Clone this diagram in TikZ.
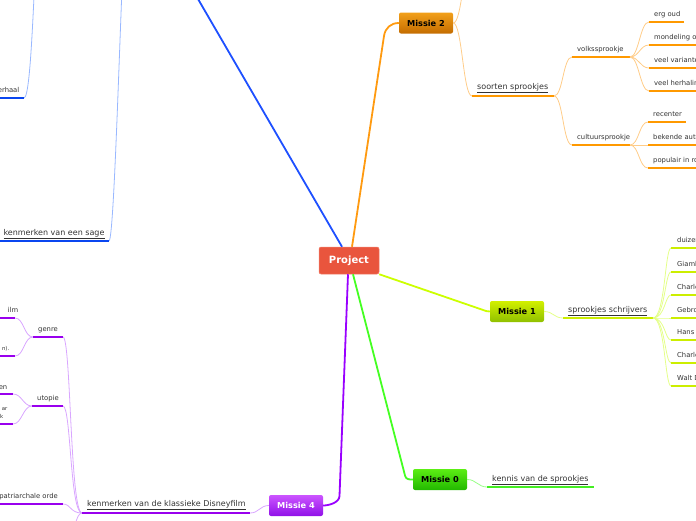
\documentclass[tikz,border=0pt]{standalone}
\usepackage{fontspec}
\setmainfont{DejaVu Sans}
\usetikzlibrary{calc}
\definecolor{txt}{HTML}{333333}
\definecolor{projC}{HTML}{E9553D}
\definecolor{projB}{HTML}{F2806C}
\definecolor{m2t}{HTML}{F2A01A}
\definecolor{m2b}{HTML}{C46C00}
\definecolor{m1t}{HTML}{D2F000}
\definecolor{m1b}{HTML}{90C000}
\definecolor{m0t}{HTML}{5CEE14}
\definecolor{m0b}{HTML}{22B800}
\definecolor{m4t}{HTML}{CC55FF}
\definecolor{m4b}{HTML}{9010E8}
\definecolor{lO}{HTML}{FF9A10}
\definecolor{tO}{HTML}{FFCC88}
\definecolor{uO}{HTML}{FF9900}
\definecolor{lY}{HTML}{CCFF00}
\definecolor{tY}{HTML}{E4FF88}
\definecolor{uY}{HTML}{CCEE00}
\definecolor{lG}{HTML}{44FF22}
\definecolor{tG}{HTML}{99FF88}
\definecolor{uG}{HTML}{44EE22}
\definecolor{lP}{HTML}{9900FF}
\definecolor{tP}{HTML}{D9A6FF}
\definecolor{uP}{HTML}{9900EE}
\definecolor{lB}{HTML}{1E50FF}
\definecolor{tB}{HTML}{99B8FF}
\definecolor{uB}{HTML}{0A46F0}
\tikzset{
  root/.style={rectangle, rounded corners=2pt, fill=projC, draw=projB, line width=0.5pt,
    minimum width=60pt, minimum height=27pt, text=white, inner sep=0pt,
    font=\fontsize{10}{12}\selectfont\bfseries},
  mis/.style={rectangle, rounded corners=2pt, minimum width=54pt, minimum height=21pt,
    inner sep=0pt, font=\fontsize{8.2}{10}\selectfont\bfseries},
  topic/.style={anchor=base west, inner sep=0pt, text=txt, font=\fontsize{8}{10}\selectfont},
  lab/.style={anchor=base west, inner sep=0pt, text=txt, font=\fontsize{6.8}{8}\selectfont},
  labE/.style={lab, anchor=base east},
  tiny/.style={labE, font=\fontsize{5.4}{6}\selectfont},
  mainln/.style={line width=1.8pt},
  thinln/.style={line width=0.8pt},
  ulln/.style={line width=2.6pt},
  br/.style={out=0,in=180,distance=9pt},
  brl/.style={out=180,in=0,distance=9pt},
}
\begin{document}
\begin{tikzpicture}[x=1pt,y=-1pt]
\useasboundingbox (0,0) rectangle (696,520);
\clip (0,0) rectangle (696,520);

% main nodes
\node[root] (proj) at (349,260.5) {Project};
\node[mis, top color=m2t, bottom color=m2b] (m2) at (426,23) {Missie 2};
\node[mis, top color=m1t, bottom color=m1b] (m1) at (517,311.5) {Missie 1};
\node[mis, top color=m0t, bottom color=m0b] (m0) at (440,479.5) {Missie 0};
\node[mis, top color=m4t, bottom color=m4b, text=white] (m4) at (296,505.5) {Missie 4};

% ---------------- blue branch
\coordinate (bTop) at (180,-32);
\coordinate (p3a) at (125,-60);
\coordinate (p3b) at (37,-40);
\coordinate (sgL) at (-5,241); \coordinate (sgR) at (109,241);
\coordinate (vhL) at (-5,98); \coordinate (vhR) at (24,98);
\draw[mainln, lB] ($(proj.north)+(-7,0)$) -- (bTop);
\draw[thinln, tB] (p3a) to[out=180,in=0,out distance=3pt,in distance=6pt] (sgR);
\draw[thinln, tB] (p3b) to[out=180,in=0,out distance=3pt,in distance=8pt] (vhR);
\draw[ulln, uB] (sgL) -- (sgR);
\draw[ulln, uB] (vhL) -- (vhR);
\node[topic] (sg) at (3.3,235.5) {\underline{kenmerken van een sage}};
\node[labE] (vh) at (19.5,92.7) {erhaal};

% ---------------- orange branch (Missie 2)
\coordinate (b2) at (384,36);
\coordinate (m2up) at (472,-40);
\coordinate (soL) at (472,96); \coordinate (soR) at (554,96);
\coordinate (voL) at (572,57); \coordinate (voR) at (630,57);
\coordinate (cuL) at (572,145); \coordinate (cuR) at (630,145);
\draw[mainln, lO] ($(proj.north)+(3,0)$) -- (b2)
  .. controls ($(b2)+(1.2,-8)$) and ($(m2.west)+(-8,0)$) .. (m2.west);
\draw[thinln, tO] (m2.east) to[br] (m2up);
\draw[thinln, tO] (m2.east) to[br] (soL);
\draw[thinln, tO] (soR) to[br] (voL);
\draw[thinln, tO] (soR) to[br] (cuL);
\draw[ulln, uO] (soL) -- (soR);
\draw[ulln, uO] (voL) -- (voR);
\draw[ulln, uO] (cuL) -- (cuR);
\node[topic] (so) at (477,89.5) {\underline{soorten sprookjes}};
\node[lab] (vo) at (577,51.7) {volkssprookje};
\node[lab] (cu) at (577,139.7) {cultuursprookje};
\foreach \n/\y/\e/\t in {1/22/684/erg oud, 2/45/720/mondeling overgeleverd,
    3/68/720/veel varianten, 4/91/720/veel herhalingen}{
  \coordinate (voc\n L) at (649,\y); \coordinate (voc\n R) at (\e,\y);
  \draw[thinln, tO] (voR) to[br] (voc\n L);
  \draw[ulln, uO] (voc\n L) -- (voc\n R);
  \node[lab] (vot\n) at (654,\y-5.3) {\t};
}
\foreach \n/\y/\e/\t in {1/122/686/recenter, 2/145/720/bekende auteurs,
    3/168/720/populair in romantiek}{
  \coordinate (cuc\n L) at (648,\y); \coordinate (cuc\n R) at (\e,\y);
  \draw[thinln, tO] (cuR) to[br] (cuc\n L);
  \draw[ulln, uO] (cuc\n L) -- (cuc\n R);
  \node[lab] (cut\n) at (653,\y-5.3) {\t};
}

% ---------------- yellow-green branch (Missie 1)
\coordinate (b1) at (482,309.6);
\coordinate (ssL) at (563,318); \coordinate (ssR) at (653,318);
\draw[mainln, lY] (proj.south east) -- (b1)
  .. controls ($(b1)+(3.5,1.3)$) and ($(m1.west)+(-3,0)$) .. (m1.west);
\draw[thinln, tY] (m1.east) to[br] (ssL);
\draw[ulln, uY] (ssL) -- (ssR);
\node[topic] (ss) at (568,312.5) {\underline{sprookjes schrijvers}};
\foreach \n/\y/\t in {1/248/duizend-en-een-nacht, 2/272/Giambattista Basile,
    3/295/Charles Perrault, 4/318/Gebroeders Grimm, 5/340/Hans Christian Andersen,
    6/363/Charles, 7/386/Walt Disney}{
  \coordinate (ssc\n L) at (671,\y); \coordinate (ssc\n R) at (720,\y);
  \draw[thinln, tY] (ssR) to[out=0,in=180,out distance=12pt,in distance=6pt] (ssc\n L);
  \draw[ulln, uY] (ssc\n L) -- (ssc\n R);
  \node[lab] (sst\n) at (677,\y-5.3) {\t};
}

% ---------------- green branch (Missie 0)
\coordinate (b0) at (405,475.5);
\coordinate (knL) at (487,487); \coordinate (knR) at (594,487);
\draw[mainln, lG] ($(proj.south)+(4,0)$) -- (b0)
  .. controls ($(b0)+(1,4)$) and ($(m0.west)+(-4,0)$) .. (m0.west);
\draw[thinln, tG] (m0.east) to[br] (knL);
\draw[ulln, uG] (knL) -- (knR);
\node[topic] (kn) at (492,481.5) {\underline{kennis van de sprookjes}};

% ---------------- purple branch (Missie 4)
\coordinate (b4) at (339.5,496);
\coordinate (dsL) at (82,513); \coordinate (dsR) at (250,513);
\coordinate (genL) at (33,337); \coordinate (genR) at (63,337);
\coordinate (utL) at (32,406); \coordinate (utR) at (63,406);
\coordinate (paL) at (-5,504); \coordinate (paR) at (63,504);
\coordinate (dnR) at (63,590);
\coordinate (ilL) at (-5,318); \coordinate (ilR) at (15,318);
\coordinate (nnL) at (-5,356); \coordinate (nnR) at (15,356);
\coordinate (enL) at (-5,394); \coordinate (enR) at (13,394);
\coordinate (arL) at (-5,424); \coordinate (arR) at (13,424);
\draw[mainln, lP] ($(proj.south)+(-1,0)$) -- (b4)
  .. controls ($(b4)+(-0.3,7)$) and ($(m4.east)+(5,0)$) .. (m4.east);
\draw[thinln, tP] (m4.west) to[brl] (dsR);
\foreach \c in {genR,utR,paR,dnR}{
  \draw[thinln, tP] (dsL) to[out=180,in=0,out distance=12pt,in distance=8pt] (\c);
}
\draw[thinln, tP] (genL) to[brl] (ilR);
\draw[thinln, tP] (genL) to[brl] (nnR);
\draw[thinln, tP] (utL) to[brl] (enR);
\draw[thinln, tP] (utL) to[brl] (arR);
\draw[ulln, uP] (dsL) -- (dsR);
\draw[ulln, uP] (genL) -- (genR);
\draw[ulln, uP] (utL) -- (utR);
\draw[ulln, uP] (paL) -- (paR);
\draw[ulln, uP] (ilL) -- (ilR);
\draw[ulln, uP] (nnL) -- (nnR);
\draw[ulln, uP] (enL) -- (enR);
\draw[ulln, uP] (arL) -- (arR);
\node[topic] (ds) at (87,506.5) {\underline{kenmerken van de klassieke Disneyfilm}};
\node[lab] (gen) at (38,331.7) {genre};
\node[lab] (ut) at (37,400.7) {utopie};
\node[labE] (pa) at (58,498.7) {patriarchale orde};
\node[labE] (il) at (18.5,312.7) {ilm};
\node[tiny] (nn) at (9.5,350) {n).};
\node[labE] (en) at (7.5,389.2) {en};
\node[tiny] (ar) at (7.5,410) {ar};
\node[tiny] (kk) at (3.5,418.5) {k};
\end{tikzpicture}
\end{document}
